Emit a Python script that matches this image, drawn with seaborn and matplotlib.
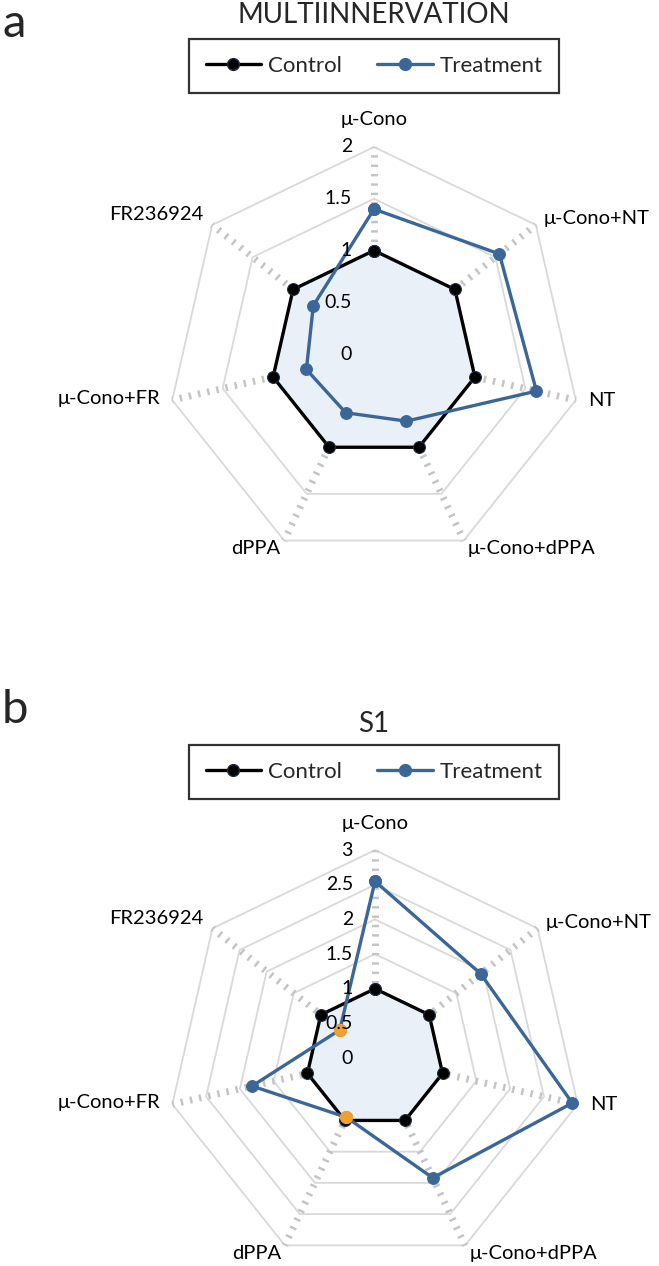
import matplotlib
matplotlib.use("Agg")
import matplotlib.pyplot as plt
import numpy as np
import pandas as pd
import seaborn as sns

# --- data -----------------------------------------------------------------
categories = ["μ-Cono", "μ-Cono+NT", "NT", "μ-Cono+dPPA", "dPPA", "μ-Cono+FR", "FR236924"]

multi_control = [1.0, 1.0, 1.0, 1.0, 1.0, 1.0, 1.0]
multi_treatment = [1.40, 1.55, 1.61, 0.72, 0.63, 0.67, 0.75]
multi_ticks = [0, 0.5, 1, 1.5, 2]

s1_control = [1.0, 1.0, 1.0, 1.0, 1.0, 1.0, 1.0]
s1_treatment = [2.55, 1.95, 2.92, 1.92, 0.95, 1.82, 0.65]
s1_ticks = [0, 0.5, 1, 1.5, 2, 2.5, 3]
s1_highlight = ["dPPA", "FR236924"]

tick_labels_multi = ["0", "0.5", "1", "1.5", "2"]
tick_labels_s1 = ["0", "0.5", "1", "1.5", "2", "2.5", "3"]

# --- style ----------------------------------------------------------------
sns.set_theme(style="white")
plt.rcParams["font.family"] = ["Lato", "DejaVu Sans"]

CONTROL = "#000000"
TREAT = "#3b6698"
HIGHLIGHT = "#f0a02c"
FILL = "#eaf0f8"
RING = "#d9d9d9"
SPOKE = "#c4c4c4"

W, H = 659, 1266
PX = 0.72  # points per pixel at dpi 100

# label offsets (pixels) per vertex: dx, dy, ha
label_pos = [
    (0, 27, "center"),
    (8, 6, "left"),
    (12, 0, "left"),
    (4, -8, "left"),
    (-4, -8, "right"),
    (-12, 2, "right"),
    (-9, 10, "right"),
]


def radar(ax, control, treatment, ticks, tick_labels, highlight=()):
    n = len(categories)
    ang = np.arange(n) * 2 * np.pi / n
    sx, sy = np.sin(ang), np.cos(ang)
    sxc, syc = np.append(sx, sx[0]), np.append(sy, sy[0])
    rmax = ticks[-1]

    for t in ticks[1:]:
        ax.plot(sxc * t, syc * t, color=RING, lw=1.3, zorder=1)
    for i in range(n):
        ax.plot([0, sx[i] * rmax], [0, sy[i] * rmax], color=SPOKE, lw=5,
                ls=(0, (0.35, 1.0)), zorder=1)

    c = np.append(control, control[0])
    t = np.append(treatment, treatment[0])
    ax.fill(sxc * c, syc * c, color=FILL, zorder=2)

    dc = pd.DataFrame({"x": sxc * c, "y": syc * c})
    dt = pd.DataFrame({"x": sxc * t, "y": syc * t})
    sns.lineplot(data=dc, x="x", y="y", sort=False, estimator=None, ax=ax,
                 color=CONTROL, lw=2.4, marker="o", ms=8.5, mec="#1d2b44",
                 mew=0.8, zorder=4)
    sns.lineplot(data=dt, x="x", y="y", sort=False, estimator=None, ax=ax,
                 color=TREAT, lw=2.4, marker="o", ms=8.5, mec=TREAT,
                 zorder=5)

    hi = [categories.index(h) for h in highlight]
    if hi:
        tv = np.array(treatment)
        ax.plot(sx[hi] * tv[hi], sy[hi] * tv[hi], "o", color=HIGHLIGHT,
                ms=8.5, mec=HIGHLIGHT, zorder=6)

    for val, lab in zip(ticks, tick_labels):
        ax.annotate(lab, (0, val), xytext=(-22 * PX, 0), textcoords="offset points",
                    ha="right", va="center", fontsize=14, color="black", zorder=7)

    for i, cat in enumerate(categories):
        dx, dy, ha = label_pos[i]
        ax.annotate(cat, (sx[i] * rmax, sy[i] * rmax), xytext=(dx * PX, dy * PX),
                    textcoords="offset points", ha=ha, va="center",
                    fontsize=14.5, color="black")

    ax.set_axis_off()


def place_axes(top_px, bot_px, cx_px, cy_px, scale):
    ax = fig.add_axes([0, 1 - bot_px / H, 1, (bot_px - top_px) / H])
    ax.set_xlim(-cx_px / scale, (W - cx_px) / scale)
    ax.set_ylim(-(bot_px - cy_px) / scale, (cy_px - top_px) / scale)
    return ax


def header(title, letter, title_y, legend_y, letter_y):
    fig.text(374 / W, 1 - title_y / H, title, ha="center", va="center", fontsize=20)
    fig.text(2 / W, 1 - letter_y / H, letter, ha="left", va="center", fontsize=34)
    handles = [
        plt.Line2D([], [], color=CONTROL, lw=2.4, marker="o", ms=8.5, mec="#1d2b44"),
        plt.Line2D([], [], color=TREAT, lw=2.4, marker="o", ms=8.5),
    ]
    leg = fig.legend(handles, ["Control", "Treatment"], loc="center",
                     bbox_to_anchor=(374 / W, 1 - legend_y / H), ncol=2,
                     frameon=True, fancybox=False, edgecolor="black",
                     fontsize=16, handlelength=2.5, columnspacing=1.6,
                     borderpad=0.75, handletextpad=0.3)
    leg.get_frame().set_linewidth(1.6)


fig = plt.figure(figsize=(W / 100, H / 100), dpi=100)

ax_a = place_axes(0, 633, 374, 354, 103.5)
radar(ax_a, multi_control, multi_treatment, multi_ticks, tick_labels_multi)
header("MULTIINNERVATION", "a", 15, 66, 24)

ax_b = place_axes(633, H, 375, 1058, 69.3)
radar(ax_b, s1_control, s1_treatment, s1_ticks, tick_labels_s1, s1_highlight)
header("S1", "b", 724, 772, 710)

fig.savefig("out.png", dpi=100)
